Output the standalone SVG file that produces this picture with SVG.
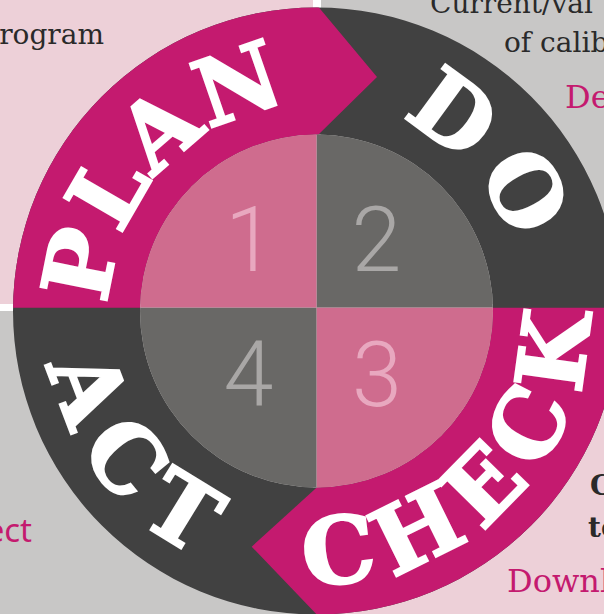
<svg xmlns="http://www.w3.org/2000/svg" width="604" height="614" viewBox="0 0 604 614">
  <style>
    .big { font-family: "DejaVu Serif", "Liberation Serif", serif; font-weight: bold; font-size: 92px; fill: #ffffff; stroke: #ffffff; stroke-width: 2.5px; stroke-linejoin: miter; }
    .num { font-family: Roboto, "Noto Sans", sans-serif; font-weight: 300; font-size: 90px; text-anchor: middle; }
    .pinkNum { fill: #e8a8bf; }
    .grayNum { fill: #a9a7a6; }
    .body { font-family: "DejaVu Serif", "Liberation Serif", serif; font-size: 28px; fill: #2a2a2a; }
    .hl { font-family: "DejaVu Serif", "Liberation Serif", serif; font-size: 32px; fill: #c41a6f; }
  </style>
  <defs>
    <clipPath id="ringClip">
      <path clip-rule="evenodd" d="M 13,311 A 303.5,303.5 0 1 1 620,311 A 303.5,303.5 0 1 1 13,311 Z M 140,311 A 176.5,176.5 0 1 0 493,311 A 176.5,176.5 0 1 0 140,311 Z"/>
    </clipPath>
    <clipPath id="innerClip">
      <circle cx="316.5" cy="311" r="176.5"/>
    </clipPath>
    <path id="topArc" d="M 108.5,311 A 208,208 0 0 1 524.5,311 A 208,208 0 0 1 108.5,311"/>
    <path id="botArc" d="M 43.5,311 A 273,273 0 0 0 589.5,311 A 273,273 0 0 0 43.5,311"/>
  </defs>

  <rect width="604" height="614" fill="#ffffff"/>
  <g id="background">
    <rect x="0" y="0" width="313" height="304" fill="#edd0d8"/>
    <rect x="321" y="0" width="283" height="304" fill="#c8c7c6"/>
    <rect x="0" y="311" width="313" height="303" fill="#c8c7c6"/>
    <rect x="321" y="311" width="283" height="303" fill="#edd0d8"/>
  </g>

  <g id="side-texts">
    <text class="body" x="104" y="44" text-anchor="end">rogram</text>
    <text class="body" x="430" y="13">Current/val</text>
    <text class="body" x="504" y="52">of calib</text>
    <text class="hl" x="565" y="108">De</text>
    <text x="32" y="542" text-anchor="end" style="font-family: 'Noto Sans', sans-serif; font-size: 33px; fill: #c41a6f;">ect</text>
    <text class="body" x="590" y="495" style="font-weight:bold">C</text>
    <text class="body" x="588" y="537" style="font-weight:bold">te</text>
    <text class="hl" x="507" y="592">Downl</text>
  </g>

  <g id="ring" clip-path="url(#ringClip)">
    <rect id="do-act" x="0" y="0" width="620" height="620" fill="#414141"/>
    <path id="plan-seg" d="M -10,307.7 L -10,-10 L 318.5,-10 L 318.5,7 L 377,77 L 318.5,134.5 L 318.5,307.7 Z" fill="#c41a6f"/>
    <path id="check-seg" d="M 316.7,307.7 L 620,307.7 L 620,620 L 316.7,620 L 316.7,614.5 L 251.7,546.7 L 316.7,487.5 Z" fill="#c41a6f"/>
  </g>

  <g id="quadrants" clip-path="url(#innerClip)">
    <rect x="130" y="120" width="186.7" height="187.7" fill="#cf6c8e"/>
    <rect x="316.7" y="120" width="190" height="187.7" fill="#696866"/>
    <rect x="130" y="307.7" width="186.7" height="190" fill="#696866"/>
    <rect x="316.7" y="307.7" width="190" height="190" fill="#cf6c8e"/>
  </g>

  <g id="node-plan">
    <text class="big" letter-spacing="1"><textPath href="#topArc" startOffset="153" text-anchor="middle">PLAN</textPath></text>
    <text class="num pinkNum" x="250" y="271">1</text>
  </g>
  <g id="node-do">
    <text class="big" letter-spacing="12"><textPath href="#topArc" startOffset="504" text-anchor="middle">DO</textPath></text>
    <text class="num grayNum" x="376.5" y="271">2</text>
  </g>
  <g id="node-check">
    <text class="big" letter-spacing="13"><textPath href="#botArc" startOffset="642" text-anchor="middle">CHECK</textPath></text>
    <text class="num pinkNum" x="377" y="406">3</text>
  </g>
  <g id="node-act">
    <text class="big" letter-spacing="18"><textPath href="#botArc" startOffset="188" text-anchor="middle">ACT</textPath></text>
    <text class="num grayNum" x="248.5" y="405">4</text>
  </g>
</svg>
